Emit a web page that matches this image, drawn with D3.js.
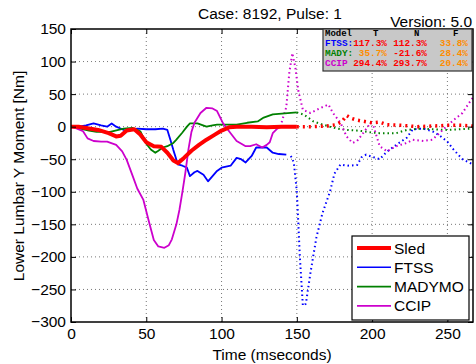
<!DOCTYPE html>
<html><head><meta charset="utf-8">
<script src="https://cdn.jsdelivr.net/npm/d3@7"></script>
<style>body{margin:0;background:#fff}svg{display:block;font-family:"Liberation Sans",Arial,sans-serif}</style>
</head><body><svg id="c" width="476" height="364"></svg>
<script>
// ---- data ----
const xTicks = [0,50,100,150,200,250];
const yTicks = [-300,-250,-200,-150,-100,-50,0,50,100,150];
const seriesNames = ["Sled","FTSS","MADYMO","CCIP"];
const seriesColors = ["#ff0000","#0000ff","#008000","#cc00cc"];

const sledT = [0,5,10,18,25,30,33,37,42,46,50,55,60,64,68,71,75,80,85,90,95,100,105,110,120,130,140,150];
const sledV = [0,0,-2,-5,-10,-15,-14,-6,-4,-12,-24,-30,-31,-40,-52,-56,-48,-37,-28,-20,-13,-6,-1,0,0,-1,0,0];
const sledDotT = [150,160,170,176,180,183,186,190,195,200,205,210,220,230,240,250,260,267];
const sledDotV = [0,0,1,3,8,17,13,10,8,6,7,3,2,0,1,2,2,1];

const ftssT = [0,5,10,15,20,24,27,30,37,44,50,56,61,64,66,68,71,74,77,79,82,84,88,91,94,97,100,106,110,113,116,120,123,127,130,134,138,143];
const ftssV = [0,0,2,5,2,0,5,0,-7,-3,-4,-4,-3,-5,-20,-36,-58,-60,-63,-76,-70,-68,-74,-84,-76,-68,-63,-60,-48,-50,-55,-45,-32,-32,-32,-40,-42,-43];
const ftssDotT = [146,148,150,152,154,156,159,163,167,172,175,179,183,190,193,196,201,205,210,216,223,227,234,240,245,250,254,260,267];
const ftssDotV = [-45,-55,-100,-200,-275,-272,-225,-170,-133,-100,-72,-58,-60,-59,-47,-43,-47,-50,-38,-28,-17,-4,-3,-7,-14,-23,-35,-50,-58];

const madT = [0,6,12,17,26,35,41,46,50,53,56,58,61,64,68,70,74,77,79,84,90,94,97,101,106,110,117,124,128,134,140,150];
const madV = [0,-3,-6,-8,-8,-3,-2,-7,-26,-35,-40,-37,-32,-30,-25,-20,-9,0,5,5,0,2,3,3,3,3,6,8,14,19,20,22];
const madDotT = [150,155,161,166,172,177,183,190,194,200,205,210,216,223,232,240,250,258,267];
const madDotV = [22,18,8,4,0,-3,-5,-6,-7,-9,-10,-10,-10,-5,-3,-4,-5,-4,-3];

const ccipT = [0,4,8,11,15,20,24,30,34,37,41,44,48,52,55,58,62,65,67,70,72,74,76,78,80,82,86,90,94,97,101,106,110,116,119,123,127,130,132,134,137,139];
const ccipV = [0,-3,-7,-18,-22,-23,-23,-28,-38,-51,-76,-95,-112,-148,-174,-184,-186,-182,-173,-150,-128,-100,-70,-35,-8,6,21,29,28,24,5,-10,-22,-30,-30,-27,-32,-28,-24,-10,-3,0];
const ccipDotT = [139,141,143,145,147,149,151,154,159,165,171,174,179,183,187,190,194,199,201,203,205,210,216,223,227,234,240,247,254,260,264,267];
const ccipDotV = [0,15,30,83,113,91,55,26,21,28,34,21,6,-15,-25,-22,-10,6,0,-15,-30,-38,-30,-25,-20,-22,-20,-5,10,21,35,45];

const boxHeader = ["Model","T","N","F"];
const boxRows = ["FTSS:","MADY:","CCIP"];
const boxVals = [["117.3%","112.3%","33.8%"],["35.7%","-21.6%","28.4%"],["294.4%","293.7%","20.4%"]];
const boxValColors = [["#ff0000","#ff0000","#ff8c00"],["#ff8c00","#ff0000","#ff8c00"],["#ff0000","#ff0000","#ff8c00"]];

// ---- layout ----
const W=476,H=364, m={l:71,t:29,r:3,b:42};
const svg=d3.select("#c");
const x=d3.scaleLinear().domain([0,267]).range([m.l,W-m.r]);
const y=d3.scaleLinear().domain([-300,150]).range([H-m.b,m.t]);

svg.append("defs").append("clipPath").attr("id","cp").append("rect")
  .attr("x",m.l).attr("y",m.t).attr("width",x(267)-m.l).attr("height",y(-300)-m.t);

// grid
const g=svg.append("g");
g.selectAll(".gx").data(xTicks.filter(d=>d>0)).enter().append("line")
  .attr("x1",d=>x(d)).attr("x2",d=>x(d)).attr("y1",m.t).attr("y2",y(-300))
  .attr("stroke","#777").attr("stroke-dasharray","1,3");
g.selectAll(".gy").data(yTicks.filter(d=>d>-300&&d<150)).enter().append("line")
  .attr("y1",d=>y(d)).attr("y2",d=>y(d)).attr("x1",m.l).attr("x2",x(267))
  .attr("stroke","#777").attr("stroke-dasharray","1,3");

// lines
const line=d3.line().x(d=>x(d[0])).y(d=>y(d[1]));
const zip=(a,b)=>a.map((t,i)=>[t,b[i]]);
const lg=svg.append("g").attr("clip-path","url(#cp)");
const solid=[[sledT,sledV],[ftssT,ftssV],[madT,madV],[ccipT,ccipV]];
const dotted=[[sledDotT,sledDotV],[ftssDotT,ftssDotV],[madDotT,madDotV],[ccipDotT,ccipDotV]];
const order=[1,2,3,0];
order.forEach(i=>{
  lg.append("path").datum(zip(dotted[i][0],dotted[i][1])).attr("d",line).attr("fill","none")
    .attr("stroke",seriesColors[i]).attr("stroke-width",i===0?3.5:2)
    .attr("stroke-dasharray",i===0?"2,4":"1.5,3");
});
order.forEach(i=>{
  lg.append("path").datum(zip(solid[i][0],solid[i][1])).attr("d",line).attr("fill","none")
    .attr("stroke",seriesColors[i]).attr("stroke-width",i===0?4:1.8).attr("stroke-linejoin","round");
});

// axes
const fs="15.5px";
svg.append("g").attr("transform",`translate(0,${y(-300)})`)
  .call(d3.axisBottom(x).tickValues(xTicks).tickSizeInner(-5).tickSizeOuter(0).tickPadding(6));
svg.append("g").attr("transform",`translate(${m.l},0)`)
  .call(d3.axisLeft(y).tickValues(yTicks).tickSizeInner(-5).tickSizeOuter(0).tickPadding(5));
svg.append("g").attr("transform",`translate(0,${m.t})`)
  .call(d3.axisTop(x).tickValues(xTicks).tickSizeInner(-5).tickSizeOuter(0).tickFormat(""));
svg.append("g").attr("transform",`translate(${x(267)},0)`)
  .call(d3.axisRight(y).tickValues(yTicks).tickSizeInner(-5).tickSizeOuter(0).tickFormat(""));
svg.selectAll(".domain").remove();
svg.selectAll(".tick text").attr("font-size",fs).attr("fill","#000").attr("font-family","Liberation Sans, Arial, sans-serif");
svg.selectAll(".tick line").attr("stroke","#000");
svg.append("rect").attr("x",m.l).attr("y",m.t).attr("width",x(267)-m.l).attr("height",y(-300)-m.t)
  .attr("fill","none").attr("stroke","#000").attr("stroke-width",1.5);

// titles
svg.append("text").attr("x",270).attr("y",19).attr("text-anchor","middle").attr("font-size","15.5px").text("Case: 8192, Pulse: 1");
svg.append("text").attr("x",472).attr("y",27).attr("text-anchor","end").attr("font-size","15.5px").text("Version: 5.0");
svg.append("text").attr("x",272).attr("y",360).attr("text-anchor","middle").attr("font-size","15.5px").text("Time (mseconds)");
svg.append("text").attr("transform","translate(24,176) rotate(-90)").attr("text-anchor","middle").attr("font-size","15.5px").text("Lower Lumbar Y Moment [Nm]");

// info box
const bx=svg.append("g");
bx.append("rect").attr("x",323).attr("y",29).attr("width",149).attr("height",42).attr("fill","#c8c8c8").attr("stroke","#333").attr("stroke-width",1.2);
const mono="'Liberation Mono','DejaVu Sans Mono',monospace";
const hx=[325,373,414,453];
boxHeader.forEach((h,i)=>bx.append("text").attr("x",hx[i]).attr("y",36).attr("font-family",mono).attr("font-weight","bold").attr("font-size","9px").attr("fill","#000").text(h));
const rowColors=["#0000ff","#008000","#cc00cc"];
const colRight=[387,427,468];
boxRows.forEach((r,i)=>{
  const yy=46+i*10;
  bx.append("text").attr("x",325).attr("y",yy).attr("font-family",mono).attr("font-weight","bold").attr("font-size","9.4px").attr("fill",rowColors[i]).text(r);
  boxVals[i].forEach((v,j)=>bx.append("text").attr("x",colRight[j]).attr("y",yy).attr("text-anchor","end")
    .attr("font-family",mono).attr("font-weight","bold").attr("font-size","9.4px").attr("fill",boxValColors[i][j]).text(v));
});

// legend
const lgd=svg.append("g");
lgd.append("rect").attr("x",352).attr("y",236).attr("width",117).attr("height",84).attr("fill","#fff").attr("stroke","#000").attr("stroke-width",1.2);
seriesNames.forEach((n,i)=>{
  const yy=248+i*19.3;
  lgd.append("line").attr("x1",357).attr("x2",391).attr("y1",yy).attr("y2",yy).attr("stroke",seriesColors[i]).attr("stroke-width",i===0?4:1.6);
  lgd.append("text").attr("x",394).attr("y",yy+5.5).attr("font-size","15.5px").text(n);
});
</script></body></html>
